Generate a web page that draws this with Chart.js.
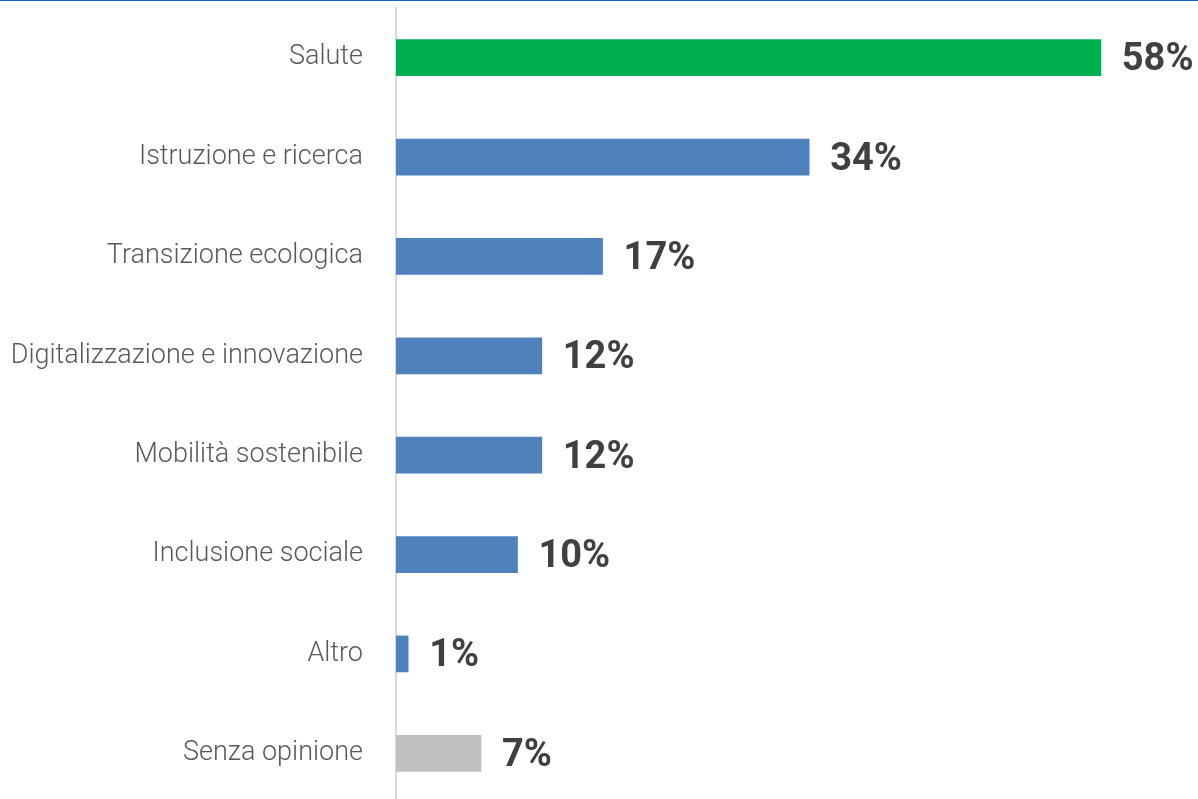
<!DOCTYPE html>
<html>
<head>
<meta charset="utf-8">
<script src="https://cdn.jsdelivr.net/npm/chart.js@4.4.1/dist/chart.umd.min.js"></script>
<style>
    html, body { margin: 0; padding: 0; background: #ffffff; overflow: hidden; }
    #topline { position: absolute; left: 0; top: 0; width: 1198px; height: 1px; background: #0a66c8; z-index: 2; }
    #chart_area { position: relative; width: 1198px; height: 803px; }
</style>
</head>
<body>
<div id="topline"></div>
<div id="chart_area"><canvas id="priorities"></canvas></div>
<script>
// Categories and percentages
var categories = [
    "Salute",
    "Istruzione e ricerca",
    "Transizione ecologica",
    "Digitalizzazione e innovazione",
    "Mobilità sostenibile",
    "Inclusione sociale",
    "Altro",
    "Senza opinione"
];
var percentValues = [58, 34, 17, 12, 12, 10, 1, 7];

// Bar colours: first highlighted, last is "no opinion"
var barColors = [
    "#00b050",
    "#4f81bd",
    "#4f81bd",
    "#4f81bd",
    "#4f81bd",
    "#4f81bd",
    "#4f81bd",
    "#bfbfbf"
];

/**
 * Draws the percentage label to the right of every bar.
 */
const valueLabels = {
    id: "valueLabels",
    afterDatasetsDraw(chart) {
        const ctx = chart.ctx;
        const meta = chart.getDatasetMeta(0);
        ctx.save();
        ctx.font = "bold 38px Roboto";
        ctx.fillStyle = "#404040";
        ctx.textAlign = "left";
        ctx.textBaseline = "middle";
        meta.data.forEach(function (bar, i) {
            ctx.fillText(percentValues[i] + "%", bar.x + 21, bar.y + 3);
        });
        ctx.restore();
    }
};

new Chart("priorities", {
    type: "bar",
    data: {
        labels: categories,
        datasets: [{
            data: percentValues,
            backgroundColor: barColors,
            barThickness: 36
        }]
    },
    options: {
        indexAxis: "y",
        responsive: true,
        maintainAspectRatio: false,
        animation: false,
        layout: { padding: { top: 8, left: 0, right: 0, bottom: 0 } },
        plugins: {
            legend: { display: false },
            tooltip: { enabled: false }
        },
        scales: {
            x: {
                display: false,
                min: 0,
                max: 66
            },
            y: {
                grid: { display: false, drawTicks: false },
                border: { display: true, color: "#d9d9d9", width: 2 },
                ticks: {
                    padding: 33,
                    color: "#595959",
                    font: { family: "Roboto", size: 27, weight: "300" }
                },
                afterFit: function (scale) {
                    // fixed axis width, and no extra vertical padding from the tick padding
                    scale.width = 396;
                    scale.paddingTop = 0;
                    scale.paddingBottom = 0;
                }
            }
        }
    },
    plugins: [valueLabels]
});
</script>
</body>
</html>
